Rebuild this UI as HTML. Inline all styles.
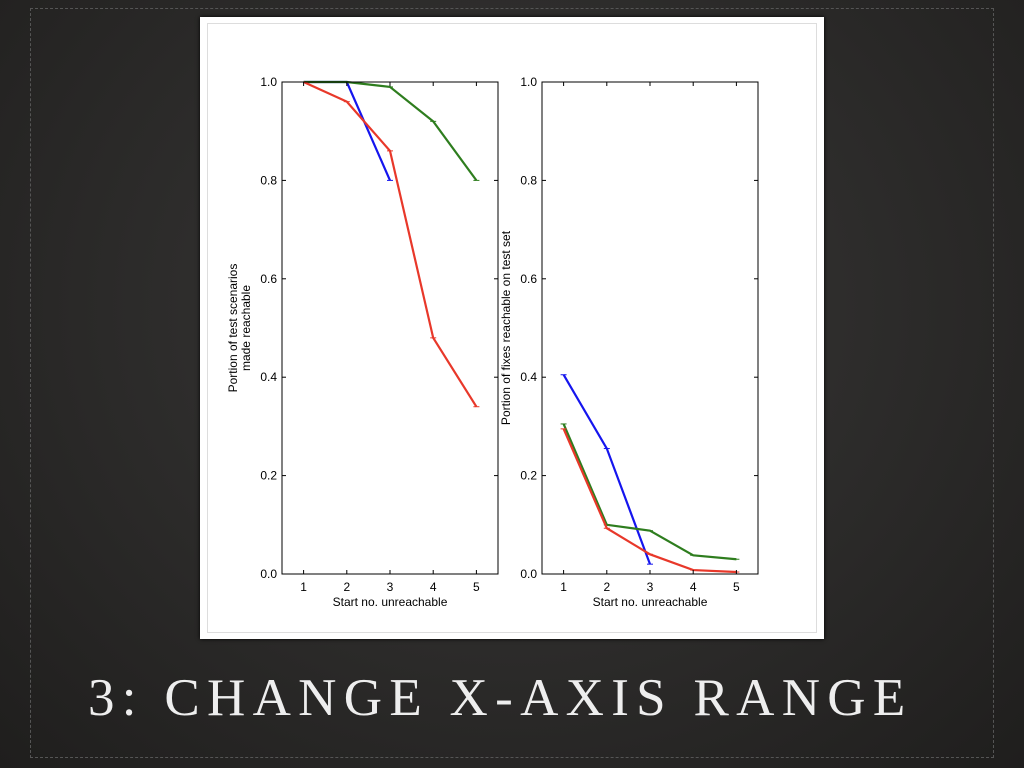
<!DOCTYPE html>
<html><head><meta charset="utf-8"><style>
body{margin:0;width:1024px;height:768px;overflow:hidden;background:#2b2a29;font-family:"Liberation Sans",sans-serif}
#bg{position:absolute;left:0;top:0;width:1024px;height:768px;background:radial-gradient(ellipse at 50% 40%,#3a3938 0%,#2a2928 60%,#1f1e1d 100%)}
#dash{position:absolute;left:30px;top:8px;width:962px;height:748px;border:1px dashed #555}
#card{position:absolute;left:200px;top:17px;width:624px;height:622px;background:#fff;box-shadow:0 0 4px #000}
#inner{position:absolute;left:7px;top:6px;width:608px;height:608px;border:1px solid #ddd}
#title{position:absolute;left:88px;top:668px;color:#eee;font-family:"Liberation Serif",serif;font-size:53px;letter-spacing:7.3px;white-space:nowrap}
</style></head><body>
<div id="bg"></div>
<div id="dash"></div>
<div id="card"><div id="inner"></div></div>
<svg id="chart" width="1024" height="768" style="position:absolute;left:0;top:0"></svg>
<div id="title">3: CHANGE X-AXIS RANGE</div>
<script>
const xCats=[1,2,3,4,5];
const yTicks=[0.0,0.2,0.4,0.6,0.8,1.0];
const leftBlue=[1.0,1.0,0.8];
const leftRed=[1.0,0.96,0.86,0.48,0.34];
const leftGreen=[1.0,1.0,0.99,0.92,0.80];
const rightBlue=[0.405,0.255,0.02];
const rightGreen=[0.305,0.1,0.088,0.038,0.03];
const rightRed=[0.295,0.093,0.04,0.008,0.004];
const NS="http://www.w3.org/2000/svg";
const svg=document.getElementById('chart');
function mk(t,a,p){const e=document.createElementNS(NS,t);for(const k in a)e.setAttribute(k,a[k]);(p||svg).appendChild(e);return e;}
function panel(name,x0,x1,ylab,labX,series){
  const y0=574,y1=82;
  const g=mk('g',{});
  
  
  const sx=v=>x0+(v-0.5)/5*(x1-x0);
  const sy=v=>y0-v*(y0-y1);
  series.forEach(s=>{
    const pts=s.vals.map((v,i)=>sx(xCats[i])+','+sy(v)).join(' ');
    const l=mk('polyline',{points:pts,fill:'none',stroke:s.color,'stroke-width':2.2},g);
    
    
    s.vals.forEach((v,i)=>mk('line',{x1:sx(xCats[i])-3,x2:sx(xCats[i])+3,y1:sy(v),y2:sy(v),stroke:s.color,'stroke-width':1},g));
  });
  const f=mk('rect',{x:x0,y:y1,width:x1-x0,height:y0-y1,fill:'none',stroke:'#000','stroke-width':1},g);
  
  
  xCats.forEach(c=>{
    mk('line',{x1:sx(c),x2:sx(c),y1:y0,y2:y0-4,stroke:'#000'},g);
    mk('line',{x1:sx(c),x2:sx(c),y1:y1,y2:y1+4,stroke:'#000'},g);
    const t=mk('text',{x:sx(c),y:y0+17,'font-size':12,'text-anchor':'middle',fill:'#000'},g);t.textContent=c;
    
    
  });
  yTicks.forEach(v=>{
    mk('line',{x1:x0,x2:x0+4,y1:sy(v),y2:sy(v),stroke:'#000'},g);
    mk('line',{x1:x1,x2:x1-4,y1:sy(v),y2:sy(v),stroke:'#000'},g);
    const t=mk('text',{x:x0-5,y:sy(v)+4,'font-size':12,'text-anchor':'end',fill:'#000'},g);t.textContent=v.toFixed(1);
    
    
  });
  const xt=mk('text',{x:(x0+x1)/2,y:y0+32,'font-size':12,'text-anchor':'middle',fill:'#000'},g);xt.textContent='Start no. unreachable';
  
  
  ylab.forEach((s,i)=>{
    const cx=labX+i*13, cy=(y0+y1)/2;
    const t=mk('text',{x:cx,y:cy,'font-size':12,'text-anchor':'middle',fill:'#000',transform:`rotate(-90 ${cx} ${cy})`},g);t.textContent=s;
    
    
  });
}
panel('left-chart',282,498,['Portion of test scenarios','made reachable'],237,[
 {name:'left-blue-line',color:'#1515ee',vals:leftBlue},
 {name:'left-green-line',color:'#2e7d1e',vals:leftGreen},
 {name:'left-red-line',color:'#e8382a',vals:leftRed}]);
panel('right-chart',542,758,['Portion of fixes reachable on test set'],510,[
 {name:'right-blue-line',color:'#1515ee',vals:rightBlue},
 {name:'right-green-line',color:'#2e7d1e',vals:rightGreen},
 {name:'right-red-line',color:'#e8382a',vals:rightRed}]);
</script>
</body></html>
